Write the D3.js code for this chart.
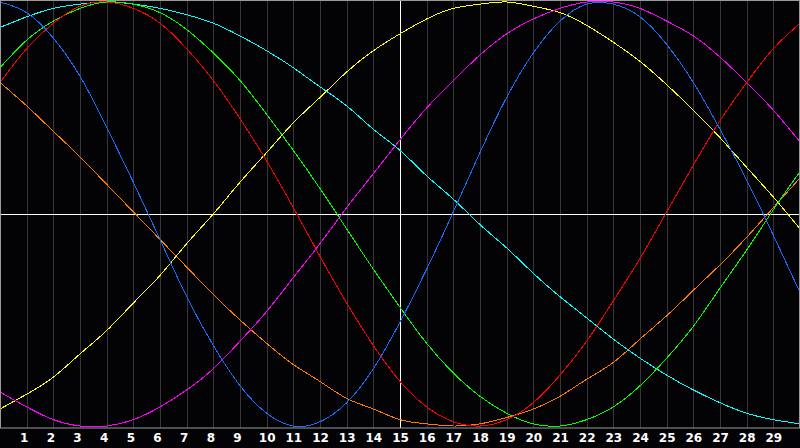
<!DOCTYPE html>
<html>
<head>
<meta charset="utf-8">
<script src="https://cdn.jsdelivr.net/npm/d3@7"></script>
<style>
  html, body { margin: 0; padding: 0; background: #000; }
  svg { display: block; }
</style>
</head>
<body>
<script>
// sample positions (grid units, 0..30) and the tick labels under the plot
var steps = [0,1,2,3,4,5,6,7,8,9,10,11,12,13,14,15,16,17,18,19,20,21,22,23,24,25,26,27,28,29,30];
var tickLabels = [1,2,3,4,5,6,7,8,9,10,11,12,13,14,15,16,17,18,19,20,21,22,23,24,25,26,27,28,29];

// series values, -100 .. 100
var red     = [62,78,90,98,100,97,90,78,63,45,25,3,-20,-42,-62,-79,-91,-98,-100,-97,-89,-76,-60,-41,-21,1,23,44,62,78,90];
var green   = [69,82,91,97,100,99,95,87,76,63,47,30,12,-7,-26,-44,-61,-75,-86,-94,-99,-100,-97,-91,-81,-68,-53,-35,-17,2,20];
var blue    = [100,95,83,65,41,15,-12,-39,-62,-81,-94,-100,-98,-89,-73,-51,-26,1,29,55,76,91,99,99,93,80,62,40,16,-10,-37];
var cyan    = [88,93,97,99,100,99,97,94,90,84,77,69,60,51,40,30,18,7,-5,-16,-28,-39,-49,-59,-68,-76,-83,-89,-94,-97,-99];
var yellow  = [-92,-85,-77,-66,-55,-42,-29,-14,0,15,29,43,55,67,77,85,92,97,99,100,98,95,89,81,72,61,49,36,22,8,-7];
var magenta = [-84,-91,-97,-100,-100,-97,-91,-83,-73,-60,-46,-30,-14,3,19,35,50,63,75,85,92,97,100,100,97,91,84,74,62,49,34];
var orange  = [62,51,39,27,14,1,-12,-25,-38,-50,-61,-71,-79,-87,-92,-97,-99,-100,-99,-96,-92,-86,-78,-70,-59,-48,-36,-24,-11,3,17];

var series = [
    {values: orange,  color: "#ff7a00"},
    {values: yellow,  color: "#ffff00"},
    {values: magenta, color: "#ff00ff"},
    {values: cyan,    color: "#00ffff"},
    {values: green,   color: "#00ff00"},
    {values: red,     color: "#ff0000"},
    {values: blue,    color: "#1a6cff"}
];

var w = 800, h = 448;
var plotH = 428;

var xScale = d3.scaleLinear().domain([0, 30]).range([0, w]);
var yScale = d3.scaleLinear().domain([-100, 100]).range([426, 2]);

var svg = d3.select("body").append("svg")
    .attr("width", w)
    .attr("height", h);

svg.append("rect")
    .attr("width", w).attr("height", h)
    .attr("fill", "#030306");

svg.append("clipPath").attr("id", "plot")
    .append("rect")
    .attr("x", 0).attr("y", 0)
    .attr("width", w).attr("height", plotH);

// vertical grid
svg.append("g")
    .selectAll("line")
    .data(tickLabels)
    .enter()
    .append("line")
    .attr("x1", function(d) { return Math.round(xScale(d)) + 0.5; })
    .attr("x2", function(d) { return Math.round(xScale(d)) + 0.5; })
    .attr("y1", 0)
    .attr("y2", plotH)
    .attr("stroke", function(d) { return d === 15 ? "#ffffff" : "#363636"; })
    .attr("stroke-width", 1);

// horizontal zero line
svg.append("line")
    .attr("x1", 0).attr("x2", w)
    .attr("y1", Math.round(yScale(0)) + 0.5)
    .attr("y2", Math.round(yScale(0)) + 0.5)
    .attr("stroke", "#ffffff");

// curves
var line = d3.line()
    .x(function(d, i) { return xScale(steps[i]); })
    .y(function(d) { return yScale(d); })
    .curve(d3.curveNatural);

svg.append("g")
    .attr("clip-path", "url(#plot)")
    .selectAll("path")
    .data(series)
    .enter()
    .append("path")
    .attr("d", function(d) { return line(d.values); })
    .attr("fill", "none")
    .attr("stroke", function(d) { return d.color; })
    .attr("stroke-width", 1)
    .attr("shape-rendering", "crispEdges");

// frame
svg.append("rect")
    .attr("x", 0.5).attr("y", 0.5)
    .attr("width", w - 1).attr("height", plotH - 0.5)
    .attr("fill", "none")
    .attr("stroke", "#9a9a9a");

// x labels
var xAxis = d3.axisBottom(xScale)
    .tickValues(tickLabels)
    .tickSize(0)
    .tickPadding(0)
    .tickFormat(function(d) { return d; });

var ax = svg.append("g")
    .attr("transform", "translate(0," + (plotH + 5) + ")")
    .call(xAxis);

ax.select(".domain").remove();
ax.selectAll("text")
    .attr("fill", "#ffffff")
    .attr("dx", function(d) { return d < 10 ? -3 : 0; })
    .style("font-family", "'DejaVu Sans', sans-serif")
    .style("font-weight", "bold")
    .style("font-size", "12px");
</script>
</body>
</html>
